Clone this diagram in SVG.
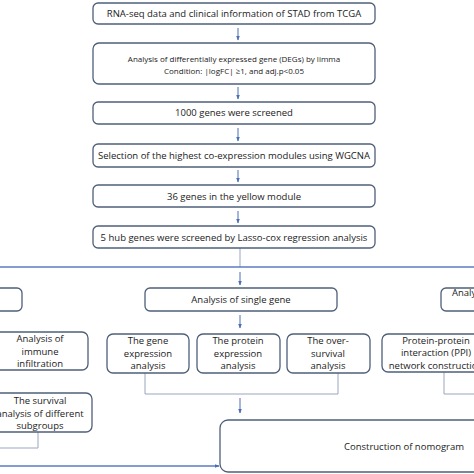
<svg xmlns="http://www.w3.org/2000/svg" width="474" height="474" viewBox="0 0 474 474">
<defs>
<marker id="ah" viewBox="0 0 10 10" refX="9" refY="5" markerWidth="5" markerHeight="5" orient="auto" markerUnits="userSpaceOnUse">
<path d="M0,1 L10,5 L0,9 z" fill="#4a6fb5"/>
</marker>
<style>
.b{fill:#fff;stroke:#4f5f7a;stroke-width:1.3}
.t{font-family:"Open Sans","Liberation Sans",sans-serif;fill:#222;text-anchor:middle}
.s9{font-size:9.5px}
.s8{font-size:8px}
.c{fill:none;stroke:#4a6fb5;stroke-width:1}
.g{fill:none;stroke:#9aa6bd;stroke-width:1}
.h{fill:none;stroke:#5b7bbf;stroke-width:1.6}
</style>
</defs>
<rect width="474" height="474" fill="#fff"/>
<g id="connectors">
<line class="c" x1="238" y1="28" x2="238" y2="40" marker-end="url(#ah)"/>
<line class="c" x1="238" y1="87" x2="238" y2="99" marker-end="url(#ah)"/>
<line class="c" x1="238" y1="128" x2="238" y2="141" marker-end="url(#ah)"/>
<line class="c" x1="238" y1="170" x2="238" y2="182" marker-end="url(#ah)"/>
<line class="c" x1="238" y1="211" x2="238" y2="223" marker-end="url(#ah)"/>
<line class="g" x1="240" y1="248" x2="240" y2="267"/>
<line class="h" x1="0" y1="267" x2="474" y2="267"/>
<line class="c" x1="240" y1="272" x2="240" y2="285" marker-end="url(#ah)"/>
<line class="c" x1="240" y1="315" x2="240" y2="328" marker-end="url(#ah)"/>
<polyline class="g" points="145,373 145,394 338,394 338,373"/>
<line class="c" x1="240" y1="398" x2="240" y2="413" marker-end="url(#ah)"/>
<polyline class="g" points="38,432 38,448 0,448"/>
<polyline class="g" points="444,371 444,394 474,394"/>
<line class="h" x1="0" y1="466" x2="219" y2="466" marker-end="url(#ah)"/>
</g>
<g id="n1"><rect class="b" x="93" y="3" width="282" height="21" rx="5"/><text class="t s9" x="234" y="17">RNA-seq data and clinical information of  STAD from TCGA</text></g>
<g id="n2"><rect class="b" x="93" y="43" width="282" height="41" rx="6"/><text class="t s8" x="234" y="62">Analysis of differentially expressed gene (DEGs) by limma</text><text class="t s8" x="234" y="74">Condition: |logFC| ≥1, and adj.p&lt;0.05</text></g>
<g id="n3"><rect class="b" x="93" y="102" width="282" height="22" rx="5"/><text class="t s9" x="234" y="116">1000 genes were screened</text></g>
<g id="n4"><rect class="b" x="93" y="144" width="282" height="23" rx="5"/><text class="t s9" x="234" y="159">Selection of the highest co-expression modules using WGCNA</text></g>
<g id="n5"><rect class="b" x="93" y="185" width="282" height="22" rx="5"/><text class="t s9" x="234" y="200">36 genes in the yellow module</text></g>
<g id="n6"><rect class="b" x="93" y="226" width="282" height="22" rx="5"/><text class="t s9" x="234" y="241">5 hub genes were screened by Lasso-cox regression analysis</text></g>
<g id="n7"><rect class="b" x="-10" y="288" width="32" height="23" rx="5"/></g>
<g id="n8"><rect class="b" x="145" y="288" width="192" height="23" rx="5"/><text class="t s9" x="241" y="303">Analysis of single gene</text></g>
<g id="n9"><rect class="b" x="441" y="288" width="50" height="23" rx="5"/><text class="t s9" x="452" y="296" style="text-anchor:start">Analy</text></g>
<g id="n10"><rect class="b" x="-10" y="332" width="98" height="38" rx="6"/><text class="t s9" x="40" y="342">Analysis of</text><text class="t s9" x="40" y="355">immune</text><text class="t s9" x="40" y="367">infiltration</text></g>
<g id="n11"><rect class="b" x="107" y="334" width="82" height="39" rx="6"/><text class="t s9" x="148" y="344">The gene</text><text class="t s9" x="148" y="357">expression</text><text class="t s9" x="148" y="369">analysis</text></g>
<g id="n12"><rect class="b" x="197" y="334" width="83" height="39" rx="6"/><text class="t s9" x="238" y="344">The protein</text><text class="t s9" x="238" y="357">expression</text><text class="t s9" x="238" y="369">analysis</text></g>
<g id="n13"><rect class="b" x="287" y="334" width="83" height="39" rx="6"/><text class="t s9" x="328" y="344">The over-</text><text class="t s9" x="328" y="357">survival</text><text class="t s9" x="328" y="369">analysis</text></g>
<g id="n14"><rect class="b" x="382" y="334" width="110" height="38" rx="6"/><text class="t s9" x="436" y="344">Protein-protein</text><text class="t s9" x="436" y="356">interaction (PPI)</text><text class="t s9" x="436" y="369">network construction</text></g>
<g id="n15"><rect class="b" x="-10" y="393" width="102" height="39" rx="6"/><text class="t s9" x="40" y="404">The survival</text><text class="t s9" x="40" y="417">analysis of different</text><text class="t s9" x="40" y="429">subgroups</text></g>
<g id="n16"><rect class="b" x="220" y="420" width="270" height="52" rx="8"/><text class="t s9" x="404" y="450">Construction of nomogram</text></g>
</svg>
